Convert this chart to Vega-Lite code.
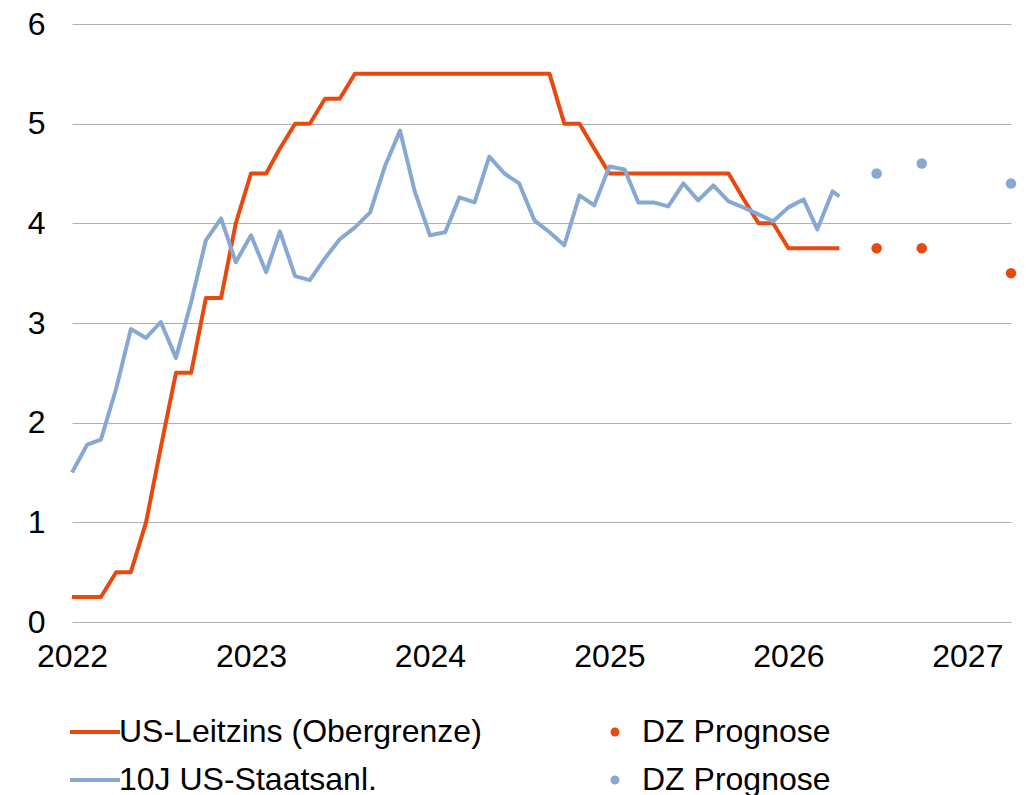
{
  "$schema": "https://vega.github.io/schema/vega-lite/v6.json",
  "autosize": {"type": "none"},
  "padding": {"left": 72, "top": 24, "right": 15, "bottom": 173},
  "width": 939,
  "height": 598,
  "background": "white",
  "config": {
    "view": {"stroke": null},
    "font": "Liberation Sans",
    "axis": {"labelFont": "Liberation Sans", "labelFontSize": 32, "labelColor": "#000000"},
    "legend": {"labelFont": "Liberation Sans", "labelFontSize": 32, "labelColor": "#000000", "labelLimit": 700}
  },
  "data": {
    "values": [
      {"date": "2022-01-01", "value": 0.25, "series": "US-Leitzins (Obergrenze)"},
      {"date": "2022-02-01", "value": 0.25, "series": "US-Leitzins (Obergrenze)"},
      {"date": "2022-03-01", "value": 0.25, "series": "US-Leitzins (Obergrenze)"},
      {"date": "2022-04-01", "value": 0.5, "series": "US-Leitzins (Obergrenze)"},
      {"date": "2022-05-01", "value": 0.5, "series": "US-Leitzins (Obergrenze)"},
      {"date": "2022-06-01", "value": 1.0, "series": "US-Leitzins (Obergrenze)"},
      {"date": "2022-07-01", "value": 1.75, "series": "US-Leitzins (Obergrenze)"},
      {"date": "2022-08-01", "value": 2.5, "series": "US-Leitzins (Obergrenze)"},
      {"date": "2022-09-01", "value": 2.5, "series": "US-Leitzins (Obergrenze)"},
      {"date": "2022-10-01", "value": 3.25, "series": "US-Leitzins (Obergrenze)"},
      {"date": "2022-11-01", "value": 3.25, "series": "US-Leitzins (Obergrenze)"},
      {"date": "2022-12-01", "value": 4.0, "series": "US-Leitzins (Obergrenze)"},
      {"date": "2023-01-01", "value": 4.5, "series": "US-Leitzins (Obergrenze)"},
      {"date": "2023-02-01", "value": 4.5, "series": "US-Leitzins (Obergrenze)"},
      {"date": "2023-03-01", "value": 4.75, "series": "US-Leitzins (Obergrenze)"},
      {"date": "2023-04-01", "value": 5.0, "series": "US-Leitzins (Obergrenze)"},
      {"date": "2023-05-01", "value": 5.0, "series": "US-Leitzins (Obergrenze)"},
      {"date": "2023-06-01", "value": 5.25, "series": "US-Leitzins (Obergrenze)"},
      {"date": "2023-07-01", "value": 5.25, "series": "US-Leitzins (Obergrenze)"},
      {"date": "2023-08-01", "value": 5.5, "series": "US-Leitzins (Obergrenze)"},
      {"date": "2023-09-01", "value": 5.5, "series": "US-Leitzins (Obergrenze)"},
      {"date": "2023-10-01", "value": 5.5, "series": "US-Leitzins (Obergrenze)"},
      {"date": "2023-11-01", "value": 5.5, "series": "US-Leitzins (Obergrenze)"},
      {"date": "2023-12-01", "value": 5.5, "series": "US-Leitzins (Obergrenze)"},
      {"date": "2024-01-01", "value": 5.5, "series": "US-Leitzins (Obergrenze)"},
      {"date": "2024-02-01", "value": 5.5, "series": "US-Leitzins (Obergrenze)"},
      {"date": "2024-03-01", "value": 5.5, "series": "US-Leitzins (Obergrenze)"},
      {"date": "2024-04-01", "value": 5.5, "series": "US-Leitzins (Obergrenze)"},
      {"date": "2024-05-01", "value": 5.5, "series": "US-Leitzins (Obergrenze)"},
      {"date": "2024-06-01", "value": 5.5, "series": "US-Leitzins (Obergrenze)"},
      {"date": "2024-07-01", "value": 5.5, "series": "US-Leitzins (Obergrenze)"},
      {"date": "2024-08-01", "value": 5.5, "series": "US-Leitzins (Obergrenze)"},
      {"date": "2024-09-01", "value": 5.5, "series": "US-Leitzins (Obergrenze)"},
      {"date": "2024-10-01", "value": 5.0, "series": "US-Leitzins (Obergrenze)"},
      {"date": "2024-11-01", "value": 5.0, "series": "US-Leitzins (Obergrenze)"},
      {"date": "2024-12-01", "value": 4.75, "series": "US-Leitzins (Obergrenze)"},
      {"date": "2025-01-01", "value": 4.5, "series": "US-Leitzins (Obergrenze)"},
      {"date": "2025-02-01", "value": 4.5, "series": "US-Leitzins (Obergrenze)"},
      {"date": "2025-03-01", "value": 4.5, "series": "US-Leitzins (Obergrenze)"},
      {"date": "2025-04-01", "value": 4.5, "series": "US-Leitzins (Obergrenze)"},
      {"date": "2025-05-01", "value": 4.5, "series": "US-Leitzins (Obergrenze)"},
      {"date": "2025-06-01", "value": 4.5, "series": "US-Leitzins (Obergrenze)"},
      {"date": "2025-07-01", "value": 4.5, "series": "US-Leitzins (Obergrenze)"},
      {"date": "2025-08-01", "value": 4.5, "series": "US-Leitzins (Obergrenze)"},
      {"date": "2025-09-01", "value": 4.5, "series": "US-Leitzins (Obergrenze)"},
      {"date": "2025-10-01", "value": 4.25, "series": "US-Leitzins (Obergrenze)"},
      {"date": "2025-11-01", "value": 4.0, "series": "US-Leitzins (Obergrenze)"},
      {"date": "2025-12-01", "value": 4.0, "series": "US-Leitzins (Obergrenze)"},
      {"date": "2026-01-01", "value": 3.75, "series": "US-Leitzins (Obergrenze)"},
      {"date": "2026-02-01", "value": 3.75, "series": "US-Leitzins (Obergrenze)"},
      {"date": "2026-03-01", "value": 3.75, "series": "US-Leitzins (Obergrenze)"},
      {"date": "2026-04-01", "value": 3.75, "series": "US-Leitzins (Obergrenze)"},
      {"date": "2026-04-15", "value": 3.75, "series": "US-Leitzins (Obergrenze)"},
      {"date": "2022-01-01", "value": 1.5, "series": "10J US-Staatsanl."},
      {"date": "2022-02-01", "value": 1.78, "series": "10J US-Staatsanl."},
      {"date": "2022-03-01", "value": 1.83, "series": "10J US-Staatsanl."},
      {"date": "2022-04-01", "value": 2.34, "series": "10J US-Staatsanl."},
      {"date": "2022-05-01", "value": 2.94, "series": "10J US-Staatsanl."},
      {"date": "2022-06-01", "value": 2.85, "series": "10J US-Staatsanl."},
      {"date": "2022-07-01", "value": 3.01, "series": "10J US-Staatsanl."},
      {"date": "2022-08-01", "value": 2.65, "series": "10J US-Staatsanl."},
      {"date": "2022-09-01", "value": 3.21, "series": "10J US-Staatsanl."},
      {"date": "2022-10-01", "value": 3.83, "series": "10J US-Staatsanl."},
      {"date": "2022-11-01", "value": 4.05, "series": "10J US-Staatsanl."},
      {"date": "2022-12-01", "value": 3.61, "series": "10J US-Staatsanl."},
      {"date": "2023-01-01", "value": 3.88, "series": "10J US-Staatsanl."},
      {"date": "2023-02-01", "value": 3.51, "series": "10J US-Staatsanl."},
      {"date": "2023-03-01", "value": 3.92, "series": "10J US-Staatsanl."},
      {"date": "2023-04-01", "value": 3.47, "series": "10J US-Staatsanl."},
      {"date": "2023-05-01", "value": 3.43, "series": "10J US-Staatsanl."},
      {"date": "2023-06-01", "value": 3.65, "series": "10J US-Staatsanl."},
      {"date": "2023-07-01", "value": 3.84, "series": "10J US-Staatsanl."},
      {"date": "2023-08-01", "value": 3.96, "series": "10J US-Staatsanl."},
      {"date": "2023-09-01", "value": 4.11, "series": "10J US-Staatsanl."},
      {"date": "2023-10-01", "value": 4.57, "series": "10J US-Staatsanl."},
      {"date": "2023-11-01", "value": 4.93, "series": "10J US-Staatsanl."},
      {"date": "2023-12-01", "value": 4.32, "series": "10J US-Staatsanl."},
      {"date": "2024-01-01", "value": 3.88, "series": "10J US-Staatsanl."},
      {"date": "2024-02-01", "value": 3.91, "series": "10J US-Staatsanl."},
      {"date": "2024-03-01", "value": 4.26, "series": "10J US-Staatsanl."},
      {"date": "2024-04-01", "value": 4.21, "series": "10J US-Staatsanl."},
      {"date": "2024-05-01", "value": 4.67, "series": "10J US-Staatsanl."},
      {"date": "2024-06-01", "value": 4.5, "series": "10J US-Staatsanl."},
      {"date": "2024-07-01", "value": 4.4, "series": "10J US-Staatsanl."},
      {"date": "2024-08-01", "value": 4.03, "series": "10J US-Staatsanl."},
      {"date": "2024-09-01", "value": 3.91, "series": "10J US-Staatsanl."},
      {"date": "2024-10-01", "value": 3.78, "series": "10J US-Staatsanl."},
      {"date": "2024-11-01", "value": 4.28, "series": "10J US-Staatsanl."},
      {"date": "2024-12-01", "value": 4.18, "series": "10J US-Staatsanl."},
      {"date": "2025-01-01", "value": 4.57, "series": "10J US-Staatsanl."},
      {"date": "2025-02-01", "value": 4.54, "series": "10J US-Staatsanl."},
      {"date": "2025-03-01", "value": 4.21, "series": "10J US-Staatsanl."},
      {"date": "2025-04-01", "value": 4.21, "series": "10J US-Staatsanl."},
      {"date": "2025-05-01", "value": 4.17, "series": "10J US-Staatsanl."},
      {"date": "2025-06-01", "value": 4.4, "series": "10J US-Staatsanl."},
      {"date": "2025-07-01", "value": 4.23, "series": "10J US-Staatsanl."},
      {"date": "2025-08-01", "value": 4.38, "series": "10J US-Staatsanl."},
      {"date": "2025-09-01", "value": 4.22, "series": "10J US-Staatsanl."},
      {"date": "2025-10-01", "value": 4.16, "series": "10J US-Staatsanl."},
      {"date": "2025-11-01", "value": 4.09, "series": "10J US-Staatsanl."},
      {"date": "2025-12-01", "value": 4.02, "series": "10J US-Staatsanl."},
      {"date": "2026-01-01", "value": 4.16, "series": "10J US-Staatsanl."},
      {"date": "2026-02-01", "value": 4.24, "series": "10J US-Staatsanl."},
      {"date": "2026-03-01", "value": 3.94, "series": "10J US-Staatsanl."},
      {"date": "2026-04-01", "value": 4.32, "series": "10J US-Staatsanl."},
      {"date": "2026-04-15", "value": 4.27, "series": "10J US-Staatsanl."},
      {"date": "2026-06-30", "value": 3.75, "series": "DZ Prognose Leitzins"},
      {"date": "2026-09-30", "value": 3.75, "series": "DZ Prognose Leitzins"},
      {"date": "2027-03-31", "value": 3.5, "series": "DZ Prognose Leitzins"},
      {"date": "2026-06-30", "value": 4.5, "series": "DZ Prognose Rendite"},
      {"date": "2026-09-30", "value": 4.6, "series": "DZ Prognose Rendite"},
      {"date": "2027-03-31", "value": 4.4, "series": "DZ Prognose Rendite"}
    ]
  },
  "encoding": {
    "x": {
      "field": "date",
      "type": "temporal",
      "scale": {
        "type": "utc",
        "domain": [
          {"year": 2022, "month": 1, "date": 1, "utc": true},
          {"year": 2027, "month": 3, "date": 31, "utc": true}
        ]
      },
      "axis": {
        "title": null,
        "format": "%Y",
        "tickCount": {"interval": "year", "step": 1},
        "grid": false,
        "domain": false,
        "ticks": false,
        "labelPadding": 19,
        "labelFlush": false,
        "labelOverlap": false
      }
    },
    "y": {
      "field": "value",
      "type": "quantitative",
      "scale": {"domain": [0, 6], "nice": false, "zero": true},
      "axis": {
        "title": null,
        "values": [0, 1, 2, 3, 4, 5, 6],
        "grid": true,
        "gridColor": "#b0b0b0",
        "gridWidth": 1.2,
        "domain": false,
        "ticks": false,
        "labelPadding": 27
      }
    }
  },
  "layer": [
    {
      "transform": [{"filter": "indexof(datum.series, 'DZ') != 0"}],
      "mark": {"type": "line", "strokeWidth": 4, "strokeJoin": "round"},
      "encoding": {
        "stroke": {
          "field": "series",
          "type": "nominal",
          "sort": ["US-Leitzins (Obergrenze)", "10J US-Staatsanl."],
          "scale": {
            "domain": ["US-Leitzins (Obergrenze)", "10J US-Staatsanl."],
            "range": ["#E8490F", "#88A8D4"]
          },
          "legend": {
            "orient": "none",
            "legendX": -4,
            "legendY": 681,
            "direction": "vertical",
            "rowPadding": 5,
            "title": null,
            "labelOffset": -3,
            "symbolSize": 2500,
            "symbolStrokeWidth": 4,
            "symbolType": "stroke"
          }
        },
        "order": {"field": "series", "sort": "descending"}
      }
    },
    {
      "transform": [{"filter": "indexof(datum.series, 'DZ') == 0"}],
      "mark": {"type": "point", "filled": true, "size": 110, "opacity": 1},
      "encoding": {
        "fill": {
          "field": "series",
          "type": "nominal",
          "scale": {
            "domain": ["DZ Prognose Leitzins", "DZ Prognose Rendite"],
            "range": ["#E8490F", "#88A8D4"]
          },
          "legend": {
            "orient": "none",
            "legendX": 527,
            "legendY": 692,
            "direction": "vertical",
            "rowPadding": 16,
            "title": null,
            "labelOffset": 11,
            "symbolSize": 80,
            "symbolType": "circle",
            "symbolOpacity": 1,
            "labelExpr": "'DZ Prognose'"
          }
        }
      }
    }
  ]
}
